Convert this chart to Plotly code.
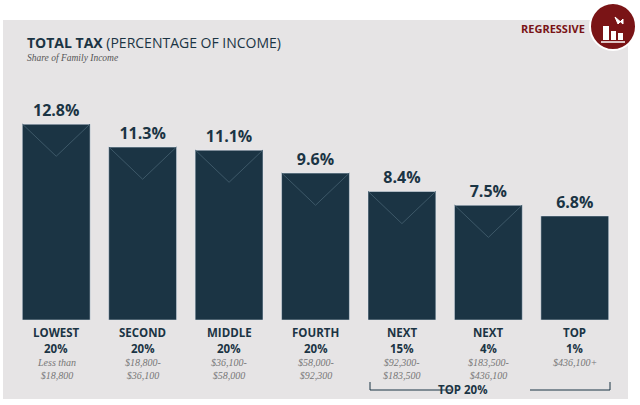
import plotly.graph_objects as go

groups = ["LOWEST", "SECOND", "MIDDLE", "FOURTH", "NEXT", "NEXT", "TOP"]
shares = ["20%", "20%", "20%", "20%", "15%", "4%", "1%"]
ranges = ["Less than<br>$18,800", "$18,800-<br>$36,100", "$36,100-<br>$58,000",
          "$58,000-<br>$92,300", "$92,300-<br>$183,500", "$183,500-<br>$436,100", "$436,100+"]
values = [12.8, 11.3, 11.1, 9.6, 8.4, 7.5, 6.8]

W, H = 640, 405
L, R, T, B = 13, 22, 60, 85
pw, ph = W - L - R, H - T - B
def px(x): return (x - L) / pw
def py(y): return (H - B - y) / ph

xs = list(range(len(values)))
fig = go.Figure()
fig.add_bar(x=xs, y=values, width=0.785, marker_color="#1b3444",
            text=[f"<b>{v}%</b>" for v in values], textposition="outside",
            textfont=dict(family="Open Sans", size=16, color="#1b3444"),
            cliponaxis=False, hoverinfo="skip")
for i, v in enumerate(values[:-1]):
    fig.add_scatter(x=[i - 0.39, i, i + 0.39], y=[v, v - 2.1, v], mode="lines",
                    line=dict(color="#3d5868", width=1), hoverinfo="skip")

ann = []
for i in xs:
    ann.append(dict(x=i, xref="x", y=py(332), yref="paper", yanchor="middle", text=f"<b>{groups[i]}</b>", showarrow=False,
                    font=dict(family="Open Sans", size=11.5, color="#1b3444")))
    ann.append(dict(x=i, xref="x", y=py(348), yref="paper", yanchor="middle", text=f"<b>{shares[i]}</b>", showarrow=False,
                    font=dict(family="Open Sans", size=11.5, color="#1b3444")))
    ann.append(dict(x=i, xref="x", y=py(355), yref="paper", yanchor="top", text=f"<i>{ranges[i]}</i>",
                    showarrow=False,
                    font=dict(family="Liberation Serif", size=10, color="#777777")))
ann += [
    dict(x=px(490), y=py(389), xref="paper", yref="paper", yanchor="middle", text="<b>TOP 20%</b>", showarrow=False,
         font=dict(family="Open Sans", size=11.5, color="#1b3444")),
    dict(x=px(25), y=py(42), xref="paper", yref="paper", xanchor="left", yanchor="middle",
         text="<b>TOTAL TAX</b> (PERCENTAGE OF INCOME)", showarrow=False,
         font=dict(family="Open Sans", size=14, color="#1b3444")),
    dict(x=px(25), y=py(58), xref="paper", yref="paper", xanchor="left", yanchor="middle",
         text="<i>Share of Family Income</i>", showarrow=False,
         font=dict(family="Liberation Serif", size=9.5, color="#555555")),
    dict(x=px(587), y=py(29), xref="paper", yref="paper", xanchor="right", yanchor="middle",
         text="<b>REGRESSIVE</b>", showarrow=False,
         font=dict(family="Liberation Sans Narrow, Open Sans", size=11, color="#7a1416")),
]
shapes = [
    dict(type="rect", xref="paper", yref="paper", x0=px(3), x1=px(628), y0=py(399), y1=py(20),
         fillcolor="#e6e4e5", line_width=0, layer="below"),
    dict(type="path", xref="paper", yref="paper",
         path=f"M {px(370)} {py(382)} L {px(370)} {py(390)} L {px(451)} {py(390)}",
         line=dict(color="#1b3444", width=1)),
    dict(type="path", xref="paper", yref="paper",
         path=f"M {px(530)} {py(390)} L {px(610)} {py(390)} L {px(610)} {py(382)}",
         line=dict(color="#1b3444", width=1)),
    dict(type="circle", xref="paper", yref="paper", x0=px(590), x1=px(636), y0=py(3), y1=py(50),
         fillcolor="#7a1416", line=dict(color="white", width=2)),
]
for x0, x1, y0 in [(603, 609, 26), (611, 616, 31), (618, 623, 33)]:
    shapes.append(dict(type="rect", xref="paper", yref="paper", x0=px(x0), x1=px(x1),
                       y0=py(40), y1=py(y0), fillcolor="white", line_width=0))
shapes.append(dict(type="line", xref="paper", yref="paper", x0=px(601), x1=px(625),
                   y0=py(42), y1=py(42), line=dict(color="white", width=1.5)))
shapes.append(dict(type="path", xref="paper", yref="paper",
                   path=f"M {px(615)} {py(17)} L {px(623)} {py(24)} L {px(623)} {py(19)} L {px(618)} {py(24)} Z",
                   fillcolor="white", line=dict(color="white", width=1)))

fig.update_layout(
    width=W, height=H, margin=dict(l=L, r=R, t=T, b=B),
    paper_bgcolor="white", plot_bgcolor="rgba(0,0,0,0)", showlegend=False,
    xaxis=dict(range=[-0.5, 6.5], visible=False),
    yaxis=dict(range=[0, ph / 15.3], visible=False),
    annotations=ann, shapes=shapes,
)
fig.write_html("out.html", config={"displayModeBar": False},
               post_script="document.body.style.margin='0';document.body.style.overflow='hidden';")
